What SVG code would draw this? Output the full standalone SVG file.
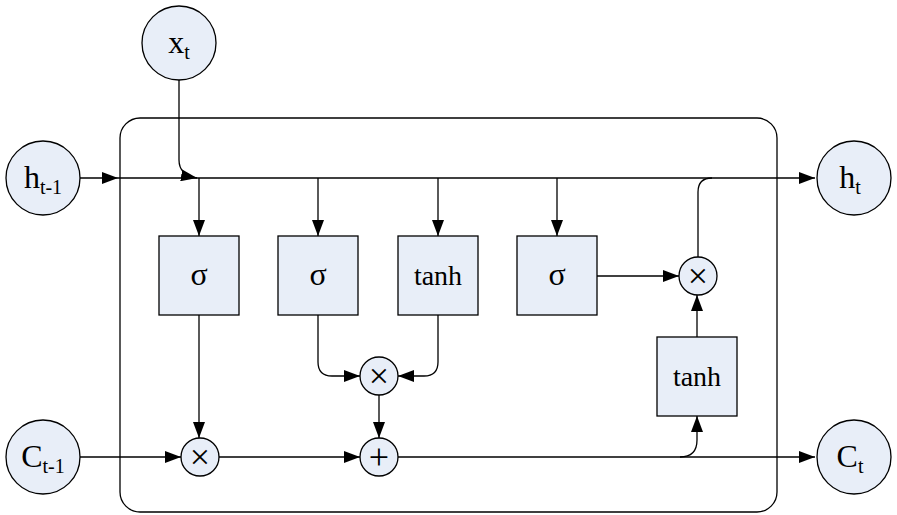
<svg xmlns="http://www.w3.org/2000/svg" width="897" height="515" viewBox="0 0 897 515">
<style>
.n{fill:#e8eef8;stroke:#000;stroke-width:1.3}
.l{fill:none;stroke:#000;stroke-width:1.3}
text{font-family:"Liberation Serif","Times New Roman",serif;text-anchor:middle}
.t{font-size:32px}
.b{font-size:28px}
.g{font-size:32px}
.o{font-size:36px}
.s{font-size:20px}
</style>
<defs>
<marker id="ar" viewBox="0 0 16 12" markerWidth="16" markerHeight="12" refX="16" refY="6" orient="auto" markerUnits="userSpaceOnUse"><path d="M0,0L16,6L0,12z"/></marker></defs>
<rect x="120" y="118" width="657" height="394" rx="20" class="l"/>
<g id="connectors" class="l">
<path d="M80,178H118" marker-end="url(#ar)"/>
<path d="M118,178H815" marker-end="url(#ar)"/>
<path d="M179,80V160Q179,175 197,178" marker-end="url(#ar)"/>
<path d="M199,178V236" marker-end="url(#ar)"/>
<path d="M318,178V236" marker-end="url(#ar)"/>
<path d="M438,178V236" marker-end="url(#ar)"/>
<path d="M557,178V236" marker-end="url(#ar)"/>
<path d="M597,276H679" marker-end="url(#ar)"/>
<path d="M698,257V192Q698,178 712,178"/>
<path d="M697,337V295" marker-end="url(#ar)"/>
<path d="M199,315V438" marker-end="url(#ar)"/>
<path d="M80,457H181" marker-end="url(#ar)"/>
<path d="M219,457H360" marker-end="url(#ar)"/>
<path d="M398,457H815" marker-end="url(#ar)"/>
<path d="M318,315V362Q318,376 332,376H360" marker-end="url(#ar)"/>
<path d="M438,315V362Q438,376 424,376H398" marker-end="url(#ar)"/>
<path d="M379,395V438" marker-end="url(#ar)"/>
<path d="M680,457Q697,457 697,440V416" marker-end="url(#ar)"/>
</g>
<g id="xt"><circle cx="179" cy="43" r="37" class="n"/><text x="179" y="53" class="t">x<tspan class="s" dy="6">t</tspan></text></g>
<g id="ht1"><circle cx="43" cy="178" r="37" class="n"/><text x="43" y="188" class="t">h<tspan class="s" dy="6">t-1</tspan></text></g>
<g id="ct1"><circle cx="43" cy="457" r="37" class="n"/><text x="43" y="467" class="t">C<tspan class="s" dy="6">t-1</tspan></text></g>
<g id="ht"><circle cx="854" cy="178" r="37" class="n"/><text x="850" y="188" class="t">h<tspan class="s" dy="6">t</tspan></text></g>
<g id="ct"><circle cx="854" cy="457" r="37" class="n"/><text x="850" y="467" class="t">C<tspan class="s" dy="6">t</tspan></text></g>
<g id="s1"><rect x="159" y="236" width="80" height="79" class="n"/><text x="199" y="285" class="g">σ</text></g>
<g id="s2"><rect x="278" y="236" width="80" height="79" class="n"/><text x="318" y="285" class="g">σ</text></g>
<g id="th1"><rect x="398" y="236" width="80" height="79" class="n"/><text x="438" y="285" class="b">tanh</text></g>
<g id="s3"><rect x="517" y="236" width="80" height="79" class="n"/><text x="557" y="285" class="g">σ</text></g>
<g id="th2"><rect x="657" y="337" width="80" height="79" class="n"/><text x="697" y="386" class="b">tanh</text></g>
<g id="m1"><circle cx="200" cy="457" r="19" class="n"/><text x="200" y="469" class="o">×</text></g>
<g id="m2"><circle cx="379" cy="376" r="19" class="n"/><text x="379" y="388" class="o">×</text></g>
<g id="p1"><circle cx="379" cy="457" r="19" class="n"/><text x="379" y="469" class="o">+</text></g>
<g id="m3"><circle cx="698" cy="276" r="19" class="n"/><text x="698" y="288" class="o">×</text></g>
</svg>
